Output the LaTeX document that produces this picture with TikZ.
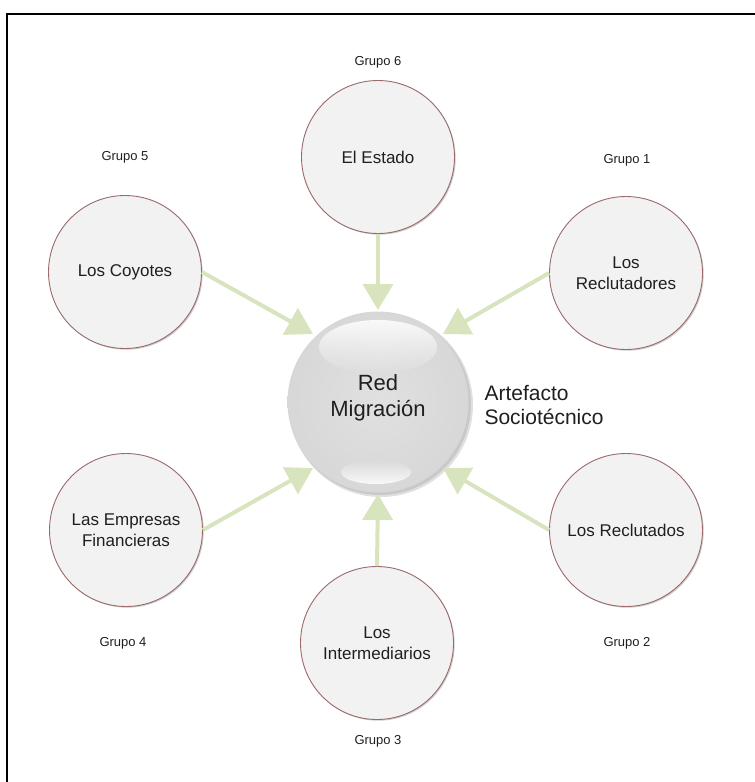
\documentclass[tikz,border=0pt]{standalone}
\usepackage{fontspec}
\setmainfont{Liberation Sans}
\usetikzlibrary{arrows.meta,shadows,fadings}
\definecolor{arrowgreen}{HTML}{D7E4BD}
\definecolor{circfill}{HTML}{F2F2F2}
\definecolor{circborder}{HTML}{9C6A6A}
\definecolor{txt}{HTML}{1F1F1F}
\pgfdeclareradialshading{spherey}{\pgfpoint{0bp}{0bp}}{color(0bp)=(gray!24); color(28bp)=(gray!32); color(44bp)=(gray!44); color(50bp)=(gray!64); color(100bp)=(gray!64)}
\begin{document}
\begin{tikzpicture}[x=1pt,y=1pt,
 actor/.style={circle,draw=circborder,line width=0.9pt,fill=circfill,minimum size=153pt,inner sep=0pt,align=center,font=\fontsize{17}{21}\selectfont,text=txt,
   drop shadow={shadow xshift=1.2pt,shadow yshift=-1.2pt,opacity=0.2,fill=black}},
 grp/.style={font=\fontsize{13}{15}\selectfont,text=txt},
 flow/.style={draw=arrowgreen,line width=4pt,-{Triangle[length=26pt,width=30pt]}},
]
\useasboundingbox (0,0) rectangle (755,-782);
\draw[line width=2.4pt] (756,-14) -- (7,-14) -- (7,-783);

% actors
\node[actor] (est) at (378,-157) {El Estado};
\node[actor] (coy) at (125,-272) {Los Coyotes};
\node[actor] (rec) at (626,-273) {Los\\Reclutadores};
\node[actor] (emp) at (126,-530) {Las Empresas\\Financieras};
\node[actor] (rdo) at (626,-530) {Los Reclutados};
\node[actor] (int) at (377,-643) {Los\\Intermediarios};

% group labels
\node[grp] (g6) at (378,-62) {Grupo 6};
\node[grp] (g5) at (125,-157) {Grupo 5};
\node[grp] (g1) at (627,-160) {Grupo 1};
\node[grp] (g4) at (123,-643) {Grupo 4};
\node[grp] (g2) at (627,-643) {Grupo 2};
\node[grp] (g3) at (378,-741) {Grupo 3};

% central sphere
\fill[black,opacity=0.12] (381,-405) circle (92);
\fill[black,opacity=0.10] (380,-404) circle (91);
\node[circle,minimum size=181pt,inner sep=0pt,shading=spherey] (c) at (378,-402) {};
\fill[white,opacity=0.85,path fading=south] (378,-347) ellipse (59 and 27);
\fill[white,opacity=0.85,path fading=north] (376,-472) ellipse (35 and 12);
\node[align=center,font=\fontsize{22}{26}\selectfont,text=txt] (ct) at (378,-398) {Red\\Migración};

\node[align=left,anchor=west,font=\fontsize{21}{24}\selectfont,text=txt] (art) at (481,-405) {Artefacto\\Sociotécnico};

% arrows
\coordinate (tEst) at (378,-310);
\coordinate (tCoy) at (313,-334);
\coordinate (tRec) at (443,-334);
\coordinate (tEmp) at (313,-468);
\coordinate (tRdo) at (443,-468);
\coordinate (tInt) at (378,-494);
\draw[flow] (est.south) -- (tEst);
\draw[flow] (coy.east) -- (tCoy);
\draw[flow] (rec.west) -- (tRec);
\draw[flow] (emp.east) -- (tEmp);
\draw[flow] (rdo.west) -- (tRdo);
\draw[flow] (int.north) -- (tInt);
\end{tikzpicture}
\end{document}
